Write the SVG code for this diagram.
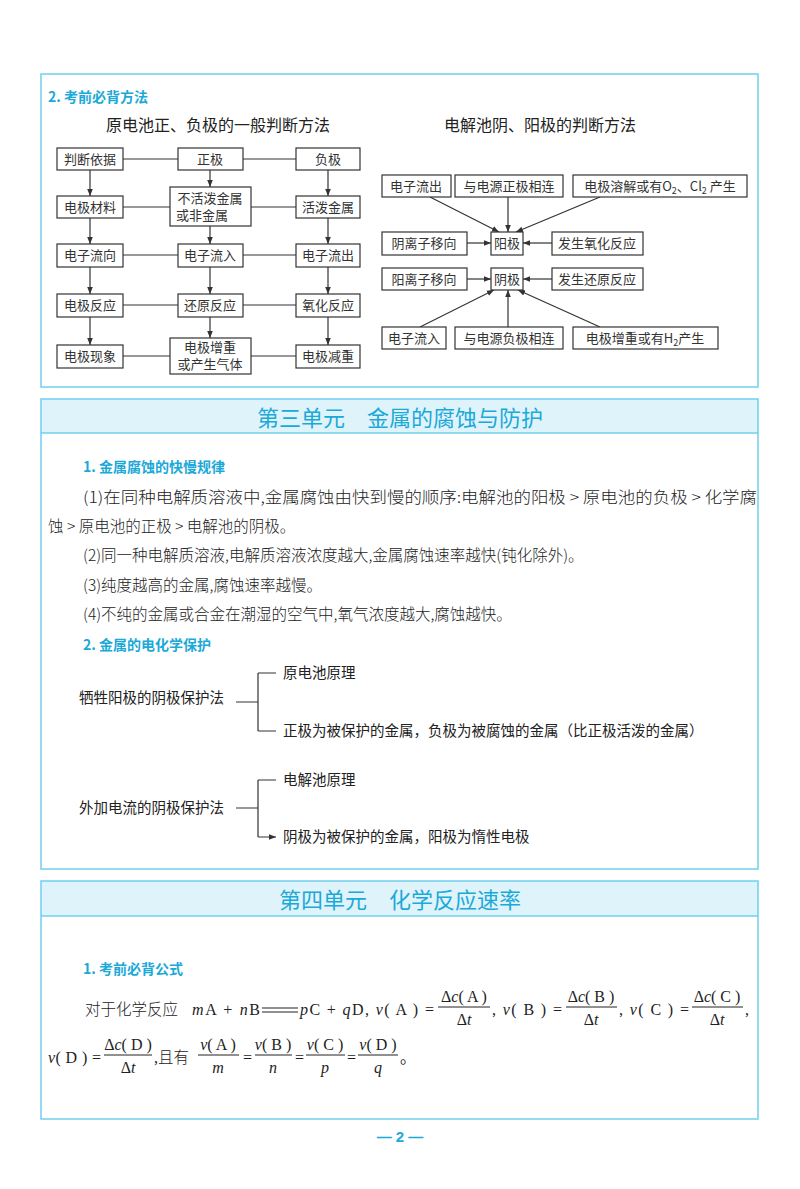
<svg xmlns="http://www.w3.org/2000/svg" width="800" height="1189" viewBox="0 0 800 1189">
<style>
text{font-family:"Liberation Serif","Noto Sans CJK SC",serif;fill:#222}
.cn{font-family:"Noto Sans CJK SC",sans-serif}
.bx{fill:#fff;stroke:#333;stroke-width:1.2}
.ln{stroke:#333;stroke-width:1.2;fill:none}
.cy{fill:#1ba9d8;font-family:"Noto Sans CJK SC",sans-serif;font-weight:bold}
.sec{fill:none;stroke:#6fd0ee;stroke-width:1.5}
.t{font-size:13px;text-anchor:middle;font-family:"Noto Sans CJK SC",sans-serif;fill:#333}
.p{font-size:15.5px;font-family:"Noto Sans CJK SC",sans-serif;font-weight:300}
.f{font-size:16px}
.i{font-style:italic}
</style>
<defs>
<marker id="ah" viewBox="0 0 10 10" refX="10" refY="5" markerWidth="7" markerHeight="7" orient="auto" markerUnits="userSpaceOnUse"><path d="M0,1L10,5L0,9z" fill="#333"/></marker>
</defs>
<rect width="800" height="1189" fill="#fff"/>
<!-- section 1 -->
<rect class="sec" x="41" y="74" width="717" height="313"/>
<text class="cy" x="48" y="102" font-size="14">2. 考前必背方法</text>
<text class="cn" x="218" y="131" font-size="16" text-anchor="middle">原电池正、负极的一般判断方法</text>
<text class="cn" x="540" y="131" font-size="16" text-anchor="middle">电解池阴、阳极的判断方法</text>
<g id="connectors">
<g class="ln">
<line x1="123" y1="159" x2="178" y2="159"/><line x1="243" y1="159" x2="296" y2="159"/>
<line x1="123" y1="207" x2="170" y2="207"/><line x1="251" y1="207" x2="296" y2="207"/>
<line x1="123" y1="255" x2="178" y2="255"/><line x1="243" y1="255" x2="296" y2="255"/>
<line x1="123" y1="305" x2="178" y2="305"/><line x1="243" y1="305" x2="296" y2="305"/>
<line x1="123" y1="356" x2="170" y2="356"/><line x1="251" y1="356" x2="296" y2="356"/>
</g>
<g class="ln" marker-end="url(#ah)">
<line x1="90" y1="170" x2="90" y2="196"/><line x1="210" y1="170" x2="210" y2="187"/><line x1="328" y1="170" x2="328" y2="196"/>
<line x1="90" y1="218" x2="90" y2="244"/><line x1="210" y1="226" x2="210" y2="244"/><line x1="328" y1="218" x2="328" y2="244"/>
<line x1="90" y1="267" x2="90" y2="294"/><line x1="210" y1="267" x2="210" y2="294"/><line x1="328" y1="267" x2="328" y2="294"/>
<line x1="90" y1="317" x2="90" y2="345"/><line x1="210" y1="317" x2="210" y2="338"/><line x1="328" y1="317" x2="328" y2="345"/>
<line x1="430" y1="197" x2="499" y2="232"/><line x1="508" y1="197" x2="508" y2="232"/><line x1="600" y1="197" x2="516" y2="232"/>
<line x1="467" y1="243" x2="491" y2="243"/><line x1="552" y1="243" x2="523" y2="243"/>
<line x1="467" y1="279" x2="491" y2="279"/><line x1="552" y1="279" x2="523" y2="279"/>
<line x1="420" y1="327" x2="494" y2="290"/><line x1="508" y1="327" x2="508" y2="290"/><line x1="600" y1="327" x2="518" y2="290"/>
<path d="M258,673H276M258,731H276M258,780H276M258,837H276"/>
</g>
<path class="ln" d="M236,702H258M258,673V731M236,808H258M258,780V837"/>
</g>
<g id="n1"><rect class="bx" x="57" y="148" width="66" height="22"/><text class="t" x="90" y="164">判断依据</text></g>
<g id="n2"><rect class="bx" x="178" y="148" width="65" height="22"/><text class="t" x="210" y="164">正极</text></g>
<g id="n3"><rect class="bx" x="296" y="148" width="64" height="22"/><text class="t" x="328" y="164">负极</text></g>
<g id="n4"><rect class="bx" x="57" y="196" width="66" height="22"/><text class="t" x="90" y="212">电极材料</text></g>
<g id="n5"><rect class="bx" x="170" y="187" width="81" height="39"/><text class="t" x="210" y="203">不活泼金属</text><text class="t" x="202" y="220">或非金属</text></g>
<g id="n6"><rect class="bx" x="296" y="196" width="64" height="22"/><text class="t" x="328" y="212">活泼金属</text></g>
<g id="n7"><rect class="bx" x="57" y="244" width="66" height="23"/><text class="t" x="90" y="260">电子流向</text></g>
<g id="n8"><rect class="bx" x="178" y="244" width="65" height="23"/><text class="t" x="210" y="260">电子流入</text></g>
<g id="n9"><rect class="bx" x="296" y="244" width="64" height="23"/><text class="t" x="328" y="260">电子流出</text></g>
<g id="n10"><rect class="bx" x="57" y="294" width="66" height="23"/><text class="t" x="90" y="310">电极反应</text></g>
<g id="n11"><rect class="bx" x="178" y="294" width="65" height="23"/><text class="t" x="210" y="310">还原反应</text></g>
<g id="n12"><rect class="bx" x="296" y="294" width="64" height="23"/><text class="t" x="328" y="310">氧化反应</text></g>
<g id="n13"><rect class="bx" x="57" y="345" width="66" height="23"/><text class="t" x="90" y="361">电极现象</text></g>
<g id="n14"><rect class="bx" x="170" y="338" width="81" height="36"/><text class="t" x="210" y="352">电极增重</text><text class="t" x="210" y="369">或产生气体</text></g>
<g id="n15"><rect class="bx" x="296" y="345" width="64" height="23"/><text class="t" x="328" y="361">电极减重</text></g>
<g id="r1"><rect class="bx" x="382" y="175" width="69" height="22"/><text class="t" x="416" y="191">电子流出</text></g>
<g id="r2"><rect class="bx" x="455" y="175" width="108" height="22"/><text class="t" x="509" y="191">与电源正极相连</text></g>
<g id="r3"><rect class="bx" x="573" y="175" width="174" height="22"/><text class="t" x="660" y="191">电极溶解或有O<tspan font-size="9" dy="3">2</tspan><tspan dy="-3">、Cl</tspan><tspan font-size="9" dy="3">2</tspan><tspan dy="-3"> 产生</tspan></text></g>
<g id="r4"><rect class="bx" x="382" y="232" width="85" height="23"/><text class="t" x="424" y="248">阴离子移向</text></g>
<g id="r5"><rect class="bx" x="491" y="232" width="32" height="23"/><text class="t" x="507" y="248">阳极</text></g>
<g id="r6"><rect class="bx" x="552" y="232" width="91" height="23"/><text class="t" x="597" y="248">发生氧化反应</text></g>
<g id="r7"><rect class="bx" x="382" y="268" width="85" height="22"/><text class="t" x="424" y="284">阳离子移向</text></g>
<g id="r8"><rect class="bx" x="491" y="268" width="32" height="22"/><text class="t" x="507" y="284">阴极</text></g>
<g id="r9"><rect class="bx" x="552" y="268" width="91" height="22"/><text class="t" x="597" y="284">发生还原反应</text></g>
<g id="r10"><rect class="bx" x="382" y="327" width="64" height="22"/><text class="t" x="414" y="343">电子流入</text></g>
<g id="r11"><rect class="bx" x="455" y="327" width="108" height="22"/><text class="t" x="509" y="343">与电源负极相连</text></g>
<g id="r12"><rect class="bx" x="573" y="327" width="145" height="22"/><text class="t" x="645" y="343">电极增重或有H<tspan font-size="9" dy="3">2</tspan><tspan dy="-3">产生</tspan></text></g>
<!-- section 2 -->
<rect x="41" y="399" width="717" height="34" fill="#dff3fb"/>
<line x1="41" y1="433" x2="758" y2="433" stroke="#6fd0ee" stroke-width="1.5"/>
<rect class="sec" x="41" y="399" width="717" height="470"/>
<text class="cy" x="400" y="426" font-size="22" text-anchor="middle" style="font-weight:normal">第三单元　金属的腐蚀与防护</text>
<text class="cy" x="83" y="472" font-size="14">1. 金属腐蚀的快慢规律</text>
<text class="p" x="83" y="503" textLength="674" lengthAdjust="spacingAndGlyphs">(1)在同种电解质溶液中,金属腐蚀由快到慢的顺序:电解池的阳极 &gt; 原电池的负极 &gt; 化学腐</text>
<text class="p" x="48" y="532">蚀 &gt; 原电池的正极 &gt; 电解池的阴极。</text>
<text class="p" x="83" y="561">(2)同一种电解质溶液,电解质溶液浓度越大,金属腐蚀速率越快(钝化除外)。</text>
<text class="p" x="83" y="591">(3)纯度越高的金属,腐蚀速率越慢。</text>
<text class="p" x="83" y="620">(4)不纯的金属或合金在潮湿的空气中,氧气浓度越大,腐蚀越快。</text>
<text class="cy" x="83" y="650" font-size="14">2. 金属的电化学保护</text>
<g font-size="14.5">
<text x="79" y="703" class="cn">牺牲阳极的阴极保护法</text>
<text x="283" y="678" class="cn">原电池原理</text>
<text x="283" y="736" class="cn">正极为被保护的金属，负极为被腐蚀的金属（比正极活泼的金属）</text>
<text x="79" y="813" class="cn">外加电流的阴极保护法</text>
<text x="283" y="785" class="cn">电解池原理</text>
<text x="283" y="842" class="cn">阴极为被保护的金属，阳极为惰性电极</text>
</g>
<!-- section 3 -->
<rect x="41" y="881" width="717" height="35" fill="#dff3fb"/>
<line x1="41" y1="916" x2="758" y2="916" stroke="#6fd0ee" stroke-width="1.5"/>
<rect class="sec" x="41" y="881" width="717" height="238"/>
<text class="cy" x="400" y="908" font-size="22" text-anchor="middle" style="font-weight:normal">第四单元　化学反应速率</text>
<text class="cy" x="83" y="974" font-size="14">1. 考前必背公式</text>
<g class="f">
<text class="cn" x="85" y="1015" font-size="15.5" font-weight="300">对于化学反应</text>
<text x="192" y="1015" textLength="68"><tspan class="i">m</tspan>A + <tspan class="i">n</tspan>B</text>
<path d="M262,1008H298M262,1012H298" stroke="#222" stroke-width="1.2"/>
<text x="300" y="1015" textLength="134"><tspan class="i">p</tspan>C + <tspan class="i">q</tspan>D, <tspan class="i">v</tspan>( A ) =</text>
<text x="464" y="1002" text-anchor="middle">Δ<tspan class="i">c</tspan>( A )</text><line x1="438" y1="1007" x2="490" y2="1007" stroke="#222"/><text x="464" y="1025" text-anchor="middle">Δ<tspan class="i">t</tspan></text>
<text x="492" y="1015" textLength="70">, <tspan class="i">v</tspan>( B ) =</text>
<text x="591" y="1002" text-anchor="middle">Δ<tspan class="i">c</tspan>( B )</text><line x1="566" y1="1007" x2="617" y2="1007" stroke="#222"/><text x="591" y="1025" text-anchor="middle">Δ<tspan class="i">t</tspan></text>
<text x="619" y="1015" textLength="70">, <tspan class="i">v</tspan>( C ) =</text>
<text x="717" y="1002" text-anchor="middle">Δ<tspan class="i">c</tspan>( C )</text><line x1="692" y1="1007" x2="743" y2="1007" stroke="#222"/><text x="717" y="1025" text-anchor="middle">Δ<tspan class="i">t</tspan></text>
<text x="745" y="1015">,</text>
<text x="48" y="1063" textLength="53"><tspan class="i">v</tspan>( D ) =</text>
<text x="128" y="1050" text-anchor="middle">Δ<tspan class="i">c</tspan>( D )</text><line x1="104" y1="1055" x2="152" y2="1055" stroke="#222"/><text x="128" y="1073" text-anchor="middle">Δ<tspan class="i">t</tspan></text>
<text x="154" y="1063">,<tspan class="cn" font-size="15.5" font-weight="300">且有</tspan></text>
<text x="218" y="1050" text-anchor="middle"><tspan class="i">v</tspan>( A )</text><line x1="198" y1="1055" x2="239" y2="1055" stroke="#222"/><text x="218" y="1073" text-anchor="middle" class="i">m</text>
<text x="243" y="1063">=</text>
<text x="273" y="1050" text-anchor="middle"><tspan class="i">v</tspan>( B )</text><line x1="255" y1="1055" x2="292" y2="1055" stroke="#222"/><text x="273" y="1073" text-anchor="middle" class="i">n</text>
<text x="295" y="1063">=</text>
<text x="325" y="1050" text-anchor="middle"><tspan class="i">v</tspan>( C )</text><line x1="306" y1="1055" x2="345" y2="1055" stroke="#222"/><text x="325" y="1073" text-anchor="middle" class="i">p</text>
<text x="347" y="1063">=</text>
<text x="378" y="1050" text-anchor="middle"><tspan class="i">v</tspan>( D )</text><line x1="358" y1="1055" x2="398" y2="1055" stroke="#222"/><text x="378" y="1073" text-anchor="middle" class="i">q</text>
<text class="cn" x="400" y="1063">。</text>
</g>
<text x="400" y="1142" text-anchor="middle" font-size="15" font-weight="bold" style="fill:#1ba9d8;font-family:'Liberation Sans',sans-serif">— 2 —</text>
</svg>
